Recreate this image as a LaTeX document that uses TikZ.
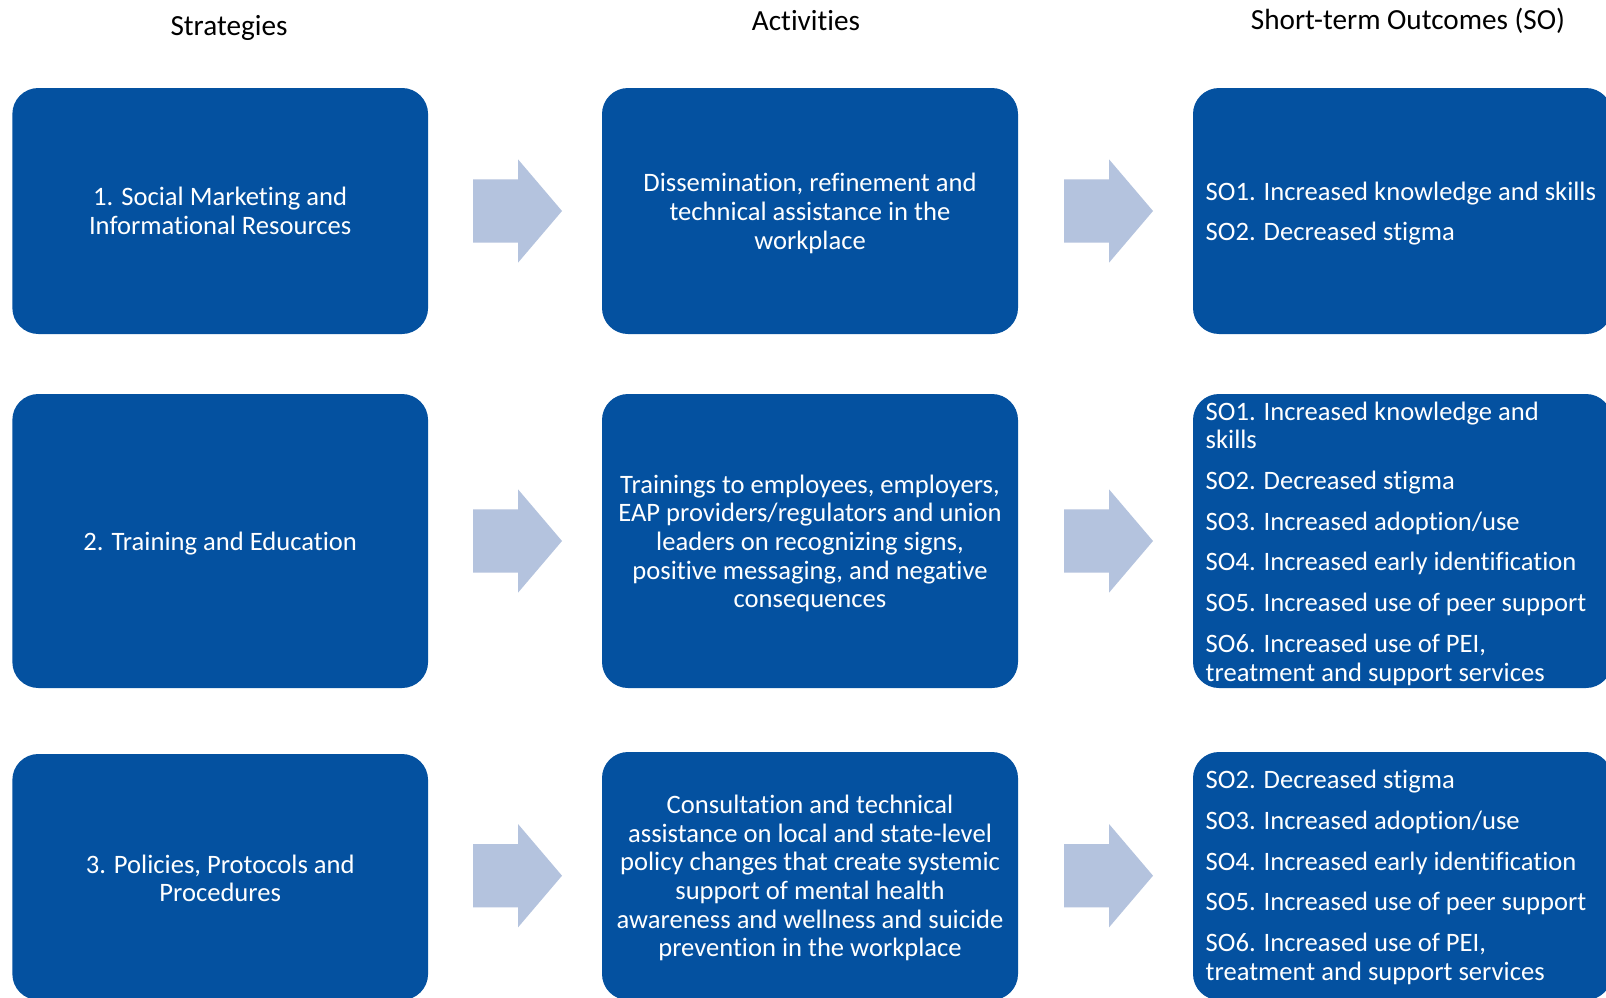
\documentclass[tikz,border=0pt]{standalone}
\usepackage{fontspec}
\setmainfont{Carlito}[Ligatures=NoCommon]
\definecolor{boxblue}{HTML}{0451A0}
\definecolor{arrowblue}{HTML}{B4C3DE}
\newcommand{\bodyfont}{\fontsize{26.6}{28.7}\selectfont}
\newcommand{\headfont}{\fontsize{29.2}{32}\selectfont}
\newcommand{\blockarrow}[2]{%
  \fill[arrowblue] (#1,#2-31.7) -- (#1+45,#2-31.7) -- (#1+45,#2-51.7) -- (#1+89,#2)
    -- (#1+45,#2+51.7) -- (#1+45,#2+31.7) -- (#1,#2+31.7) -- cycle;}
\begin{document}
\begin{tikzpicture}[x=1pt,y=-1pt,
  box/.style={fill=boxblue, rounded corners=26pt, inner sep=0pt},
  txt/.style={font=\bodyfont, text=white, align=center, inner sep=0pt},
  head/.style={font=\headfont, text=black, inner sep=0pt},
  sotext/.style={font=\bodyfont, text=white, align=left, anchor=west, inner sep=0pt}]
\clip (0,0) rectangle (1606,998);
\fill[white] (0,0) rectangle (1606,998);
% headers
\node[head] (h1) at (229,28) {Strategies};
\node[head] (h2) at (806,20.2) {Activities};
\node[head] (h3) at (1408,20.4) {Short-term Outcomes (SO)};
% boxes
\node[box, minimum width=415.7, minimum height=246] (s1) at (220.2,211) {};
\node[box, minimum width=416, minimum height=246] (a1) at (810,211) {};
\node[box, minimum width=419, minimum height=246] (o1) at (1402.5,211) {};
\node[box, minimum width=415.7, minimum height=294] (s2) at (220.2,541) {};
\node[box, minimum width=416, minimum height=294] (a2) at (810,541) {};
\node[box, minimum width=419, minimum height=294] (o2) at (1402.5,541) {};
\node[box, minimum width=415.7, minimum height=246] (s3) at (220.2,877) {};
\node[box, minimum width=416, minimum height=248] (a3) at (810,876) {};
\node[box, minimum width=419, minimum height=248] (o3) at (1402.5,876) {};
% texts
\node[txt] (s1t) at ([yshift=0pt]s1.center) {1. Social Marketing and\\Informational Resources};
\node[txt] (a1t) at ([yshift=-2.5pt]a1.center) {Dissemination, refinement and\\technical assistance in the\\workplace};
\node[sotext] (o1t) at ([yshift=-2.5pt]o1.center -| 1205.5,0) {SO1. Increased knowledge and skills\\[12pt]SO2. Decreased stigma};
\node[txt] (s2t) at ([yshift=-2.5pt]s2.center) {2. Training and Education};
\node[txt] (a2t) at ([yshift=-2.5pt]a2.center) {Trainings to employees, employers,\\EAP providers/regulators and union\\leaders on recognizing signs,\\positive messaging, and negative\\consequences};
\node[sotext] (o2t) at ([yshift=-2.5pt]o2.center -| 1205.5,0) {SO1. Increased knowledge and\\skills\\[12pt]SO2. Decreased stigma\\[12pt]SO3. Increased adoption/use\\[12pt]SO4. Increased early identification\\[12pt]SO5. Increased use of peer support\\[12pt]SO6. Increased use of PEI,\\treatment and support services};
\node[txt] (s3t) at ([yshift=-1.5pt]s3.center) {3. Policies, Protocols and\\Procedures};
\node[txt] (a3t) at ([yshift=-2pt]a3.center) {Consultation and technical\\assistance on local and state-level\\policy changes that create systemic\\support of mental health\\awareness and wellness and suicide\\prevention in the workplace};
\node[sotext] (o3t) at ([yshift=-1.5pt]o3.center -| 1205.5,0) {SO2. Decreased stigma\\[12pt]SO3. Increased adoption/use\\[12pt]SO4. Increased early identification\\[12pt]SO5. Increased use of peer support\\[12pt]SO6. Increased use of PEI,\\treatment and support services};
% arrows
\blockarrow{473}{211}
\blockarrow{473}{541}
\blockarrow{473}{875.7}
\blockarrow{1064}{211}
\blockarrow{1064}{541}
\blockarrow{1064}{875.7}
\end{tikzpicture}
\end{document}
